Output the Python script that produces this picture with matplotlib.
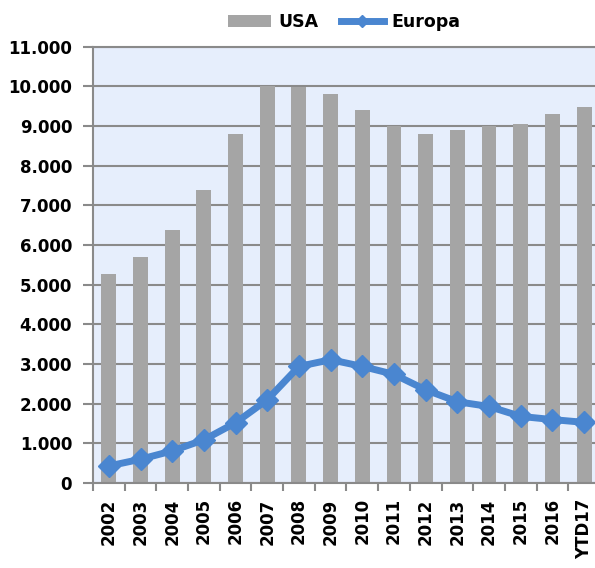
import matplotlib.pyplot as plt
import numpy as np

years = ['2002', '2003', '2004', '2005', '2006', '2007', '2008', '2009',
         '2010', '2011', '2012', '2013', '2014', '2015', '2016', 'YTD17']
usa = [5280, 5700, 6370, 7380, 8790, 10000, 9980, 9800,
       9410, 9010, 8810, 8890, 9010, 9050, 9300, 9490]
europa = [430, 600, 810, 1090, 1520, 2100, 2940, 3110,
          2940, 2740, 2350, 2050, 1930, 1680, 1600, 1530]
yticks = np.arange(0, 11001, 1000)
ylabels = ['0' if v == 0 else f'{v // 1000}.000' for v in yticks]

plt.rcParams['font.family'] = ['DejaVu Sans']
plt.rcParams['font.weight'] = 'bold'

fig = plt.figure(figsize=(5.95, 5.68), dpi=100)
ax = fig.add_axes([0.1563, 0.1496, 0.852, 0.768])
ax.set_facecolor('#E6EEFC')

x = np.arange(len(years))
bars = ax.bar(x, usa, width=0.47, color='#A5A5A5', label='USA', zorder=2)
line, = ax.plot(x, europa, color='#4A86D0', linewidth=5, marker='D', markersize=11,
                label='Europa', zorder=3)

ax.set_xlim(-0.5, len(years) - 0.5)
ax.set_ylim(0, 11000)
ax.set_yticks(yticks)
ax.set_yticklabels(ylabels, fontsize=12, fontweight='bold')
ax.yaxis.grid(True, color='#8A8A8A', linewidth=1.5, zorder=1)
ax.set_axisbelow(True)
ax.tick_params(axis='y', length=7, width=1.5, color='#8A8A8A', pad=8)

ax.set_xticks(x)
ax.set_xticklabels(years, rotation=90, fontsize=12, fontweight='bold')
ax.set_xticks(np.arange(-0.5, len(years), 1), minor=True)
ax.tick_params(axis='x', which='major', length=0, pad=11)
ax.tick_params(axis='x', which='minor', length=6, width=1.5, color='#8A8A8A')

for s in ['left', 'bottom', 'top']:
    ax.spines[s].set_color('#8A8A8A')
    ax.spines[s].set_linewidth(1.5)
ax.spines['right'].set_visible(False)

fig.legend([bars, line], ['USA', 'Europa'], loc='upper center',
           bbox_to_anchor=(0.578, 1.005), ncol=2, frameon=False,
           prop={'size': 12.5, 'weight': 'bold'}, handlelength=2.5,
           markerscale=0.6, columnspacing=1.3, handletextpad=0.4)

fig.savefig('out.png', dpi=100)
